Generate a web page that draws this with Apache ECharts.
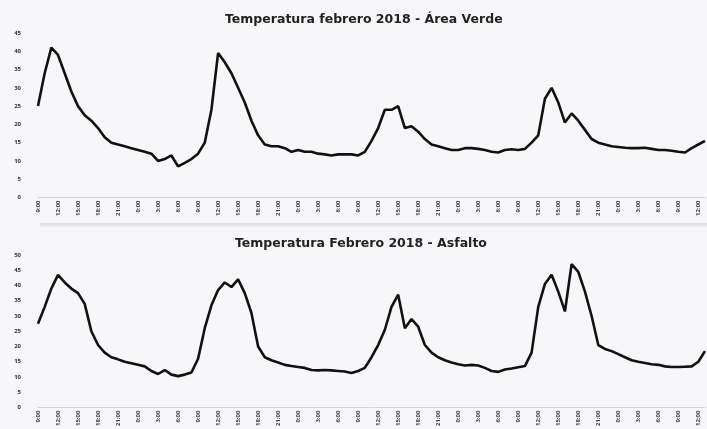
<!DOCTYPE html>
<html>
<head>
<meta charset="utf-8">
<script src="https://cdn.jsdelivr.net/npm/echarts@6/dist/echarts.min.js"></script>
<style>
  html, body { margin: 0; padding: 0; background: #f7f7f9; }
  #main { width: 707px; height: 429px; }
</style>
</head>
<body>
<div id="main"></div>
<script>
// horas (datos cada hora, etiqueta cada 3 h)
var horas = [
  "9:00","10:00","11:00","12:00","13:00","14:00","15:00","16:00","17:00","18:00","19:00","20:00","21:00","22:00","23:00",
  "0:00","1:00","2:00","3:00","4:00","5:00","6:00","7:00","8:00","9:00","10:00","11:00","12:00","13:00","14:00","15:00","16:00","17:00","18:00","19:00","20:00","21:00","22:00","23:00",
  "0:00","1:00","2:00","3:00","4:00","5:00","6:00","7:00","8:00","9:00","10:00","11:00","12:00","13:00","14:00","15:00","16:00","17:00","18:00","19:00","20:00","21:00","22:00","23:00",
  "0:00","1:00","2:00","3:00","4:00","5:00","6:00","7:00","8:00","9:00","10:00","11:00","12:00","13:00","14:00","15:00","16:00","17:00","18:00","19:00","20:00","21:00","22:00","23:00",
  "0:00","1:00","2:00","3:00","4:00","5:00","6:00","7:00","8:00","9:00","10:00","11:00","12:00","13:00"
];

// Área Verde
var areaVerde = [
  25, 34, 41, 39, 34, 29, 25, 22.5, 21, 19,
  16.5, 15, 14.5, 14, 13.5, 13, 12.5, 12, 10, 10.5,
  11.5, 8.5, 9.5, 10.5, 12, 15, 24, 39.5, 37, 34,
  30, 26, 21, 17, 14.5, 14, 14, 13.5, 12.5, 13,
  12.5, 12.5, 12, 11.8, 11.5, 11.8, 11.8, 11.8, 11.5, 12.5,
  15.5, 19, 24, 24, 25, 19, 19.5, 18, 16, 14.5,
  14, 13.5, 13, 13, 13.5, 13.5, 13.3, 13, 12.5, 12.3,
  13, 13.2, 13, 13.3, 15, 17, 27, 30, 26, 20.5,
  23, 21, 18.5, 16, 15, 14.5, 14, 13.8, 13.6, 13.5,
  13.5, 13.6, 13.3, 13, 13, 12.8, 12.5, 12.3, 13.5, 14.5,
  15.5
];

// Asfalto
var asfalto = [
  27.5, 33, 39, 43.5, 41, 39, 37.5, 34, 25, 20.5,
  18, 16.5, 15.8, 15, 14.5, 14, 13.5, 12, 11, 12.3,
  10.8, 10.3, 10.8, 11.5, 16, 26, 33.5, 38.5, 41, 39.5,
  42, 37.5, 31, 20, 16.5, 15.5, 14.8, 14, 13.6, 13.3,
  13, 12.3, 12.2, 12.3, 12.2, 12, 11.8, 11.3, 12, 13,
  16.5, 20.5, 25.5, 33, 37, 26, 29, 26.5, 20.5, 18,
  16.5, 15.5, 14.8, 14.2, 13.8, 14, 13.8, 13, 12, 11.7,
  12.5, 12.8, 13.2, 13.6, 18, 33, 40.5, 43.5, 38, 31.5,
  47, 44.5, 38, 30, 20.5, 19.2, 18.5, 17.5, 16.5, 15.5,
  15, 14.6, 14.2, 14, 13.5, 13.3, 13.3, 13.4, 13.5, 15,
  18.5
];

var chartDom = document.getElementById("main");
var myChart = echarts.init(chartDom);

var fuente = "'Open Sans', 'DejaVu Sans', sans-serif";
var fuenteTitulo = "'DejaVu Sans', sans-serif";

const ejeX = idx => ({
  type: "category",
  gridIndex: idx,
  data: horas,
  boundaryGap: false,
  axisLine: { show: true, lineStyle: { color: "#d4d4d8", width: 1 } },
  axisTick: { show: false },
  axisLabel: {
    interval: 2,
    rotate: 90,
    fontSize: 6,
    fontWeight: "bold",
    color: "#444",
    fontFamily: fuente,
    margin: 3
  },
  splitLine: { show: false }
});

const ejeY = (idx, max) => ({
  type: "value",
  gridIndex: idx,
  min: 0,
  max: max,
  interval: 5,
  axisLine: { show: false },
  axisTick: { show: false },
  splitLine: { show: false },
  axisLabel: {
    fontSize: 6,
    fontWeight: "bold",
    color: "#333",
    fontFamily: fuente,
    margin: 17
  }
});

var option = {
  backgroundColor: "#f7f7f9",
  animation: false,
  title: [
    {
      text: "Temperatura febrero 2018 - Área Verde",
      left: 220,
      top: 8,
      textStyle: { fontSize: 12.5, fontWeight: "bold", color: "#222", fontFamily: fuenteTitulo }
    },
    {
      text: "Temperatura Febrero 2018 - Asfalto",
      left: 230,
      top: 232,
      textStyle: { fontSize: 12.5, fontWeight: "bold", color: "#222", fontFamily: fuenteTitulo }
    }
  ],
  grid: [
    { left: 38, right: 2, top: 33, height: 164.5 },
    { left: 38, right: 2, top: 255, height: 159 }
  ],
  xAxis: [ejeX(0), ejeX(1)],
  yAxis: [ejeY(0, 45), ejeY(1, 50)],
  graphic: [
    {
      type: "line",
      shape: { x1: 40, y1: 224, x2: 707, y2: 224 },
      style: { stroke: "#c8c8d0", lineWidth: 1 }
    },
    {
      type: "line",
      shape: { x1: 40, y1: 226, x2: 707, y2: 226 },
      style: { stroke: "#dcdce2", lineWidth: 1 }
    }
  ],
  series: [
    {
      name: "Área Verde",
      type: "line",
      xAxisIndex: 0,
      yAxisIndex: 0,
      showSymbol: false,
      lineStyle: { color: "#111", width: 2.6 },
      data: areaVerde
    },
    {
      name: "Asfalto",
      type: "line",
      xAxisIndex: 1,
      yAxisIndex: 1,
      showSymbol: false,
      lineStyle: { color: "#111", width: 2.6 },
      data: asfalto
    }
  ]
};

myChart.setOption(option);
window.onresize = function() {
  myChart.resize();
};
</script>
</body>
</html>
